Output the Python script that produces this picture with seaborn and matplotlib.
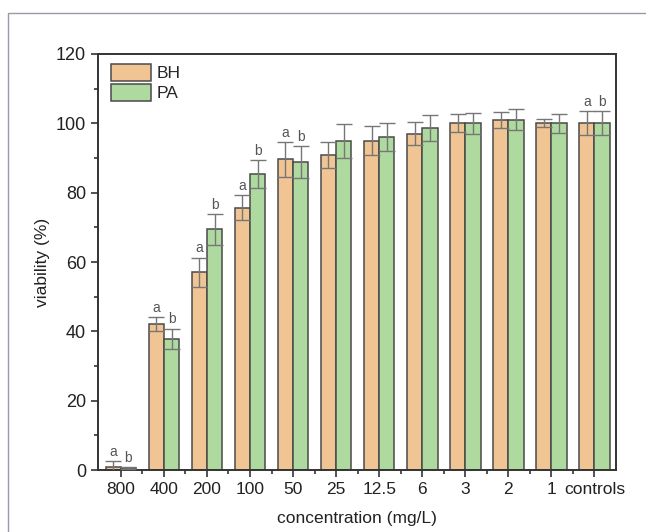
import matplotlib
matplotlib.use("Agg")
import matplotlib.pyplot as plt
import matplotlib.patches as mpatches
from matplotlib.ticker import MultipleLocator, FixedLocator
import numpy as np
import pandas as pd
import seaborn as sns

# Concentrations tested (mg/L) and mean viability (%) with standard deviations
concentrations = ["800", "400", "200", "100", "50", "25", "12.5", "6", "3", "2", "1", "controls"]
bh_mean = [1.0, 42.0, 57.0, 75.6, 89.6, 90.9, 95.0, 97.0, 100.1, 101.0, 100.0, 100.0]
bh_sd = [1.6, 2.0, 4.3, 3.6, 5.0, 3.8, 4.2, 3.3, 2.7, 2.4, 1.2, 3.5]
pa_mean = [0.5, 37.8, 69.4, 85.4, 88.8, 94.9, 96.1, 98.6, 100.0, 101.0, 100.0, 100.0]
pa_sd = [0.3, 3.0, 4.5, 4.0, 4.7, 5.0, 4.0, 3.8, 3.0, 3.0, 2.8, 3.5]

# Significance letters per concentration (BH, PA); empty where not shown
bh_letters = ["a", "a", "a", "a", "a", "", "", "", "", "", "", "a"]
pa_letters = ["b", "b", "b", "b", "b", "", "", "", "", "", "", "b"]

groups = ["BH", "PA"]
colors = {"BH": "#F0C593", "PA": "#AEDA9F"}

df = pd.DataFrame({
    "concentration": concentrations * 2,
    "viability": bh_mean + pa_mean,
    "sd": bh_sd + pa_sd,
    "letter": bh_letters + pa_letters,
    "group": ["BH"] * len(concentrations) + ["PA"] * len(concentrations),
})

sns.set_style("ticks")
plt.rcParams["font.family"] = ["Liberation Sans", "DejaVu Sans"]

fig = plt.figure(figsize=(6.46, 5.32), dpi=100)
ax = fig.add_axes([0.1517, 0.1165, 0.8019, 0.782])

sns.barplot(
    data=df, x="concentration", y="viability", hue="group",
    order=concentrations, hue_order=groups, palette=colors,
    width=0.71, errorbar=None, edgecolor="#4a4a4a", linewidth=1.1,
    saturation=1, legend=False, ax=ax,
)

# Error bars and letters placed on the drawn bars
for container, grp in zip(ax.containers, groups):
    sub = df[df["group"] == grp].reset_index(drop=True)
    for bar, (_, row) in zip(container, sub.iterrows()):
        cx = bar.get_x() + bar.get_width() / 2
        h = bar.get_height()
        ax.errorbar(cx, h, yerr=row["sd"], color="#767676", elinewidth=1.0,
                    capsize=5.5, capthick=1.0, fmt="none", zorder=3)
        if row["letter"]:
            ax.annotate(row["letter"], (cx, h + row["sd"]), xytext=(0, 1.5),
                        textcoords="offset points", ha="center", va="bottom",
                        fontsize=10, color="#555555")

ax.set_ylim(0, 120)
ax.set_xlim(-0.53, 11.5)
ax.yaxis.set_major_locator(MultipleLocator(20))
ax.yaxis.set_minor_locator(MultipleLocator(10))
ax.xaxis.set_minor_locator(FixedLocator(np.arange(0.5, 11, 1.0)))

for side in ["left", "right", "top", "bottom"]:
    ax.spines[side].set_visible(True)
    ax.spines[side].set_color("#333333")
    ax.spines[side].set_linewidth(1.4)

ax.tick_params(axis="both", which="major", direction="out", length=5, width=1.2,
               color="#333333", labelsize=12.5, labelcolor="#222222")
ax.tick_params(axis="y", which="major", labelsize=13)
ax.tick_params(axis="both", which="minor", direction="out", length=3, width=1.2,
               color="#333333")
ax.tick_params(top=False, right=False, which="both")

ax.set_xlabel("concentration (mg/L)", fontsize=12.5, color="#222222", labelpad=10)
ax.set_ylabel("viability (%)", fontsize=12.5, color="#222222", labelpad=4)

handles = [mpatches.Patch(facecolor=colors[g], edgecolor="#4a4a4a", linewidth=1.1, label=g)
           for g in groups]
ax.legend(handles=handles, loc="upper left", bbox_to_anchor=(0.0245, 0.976),
          borderpad=0, borderaxespad=0, frameon=False, fontsize=12.5,
          handlelength=2.3, handleheight=1.15, labelspacing=0.12, handletextpad=0.35)

# Thin outer frame around the figure area
frame = mpatches.Rectangle((8 / 646, -0.1), 1.2, 1 - 13 / 532 + 0.1,
                           transform=fig.transFigure, fill=False,
                           edgecolor="#9a9aa5", linewidth=1.0, clip_on=False)
fig.patches.append(frame)

fig.savefig("out.png", dpi=100)
